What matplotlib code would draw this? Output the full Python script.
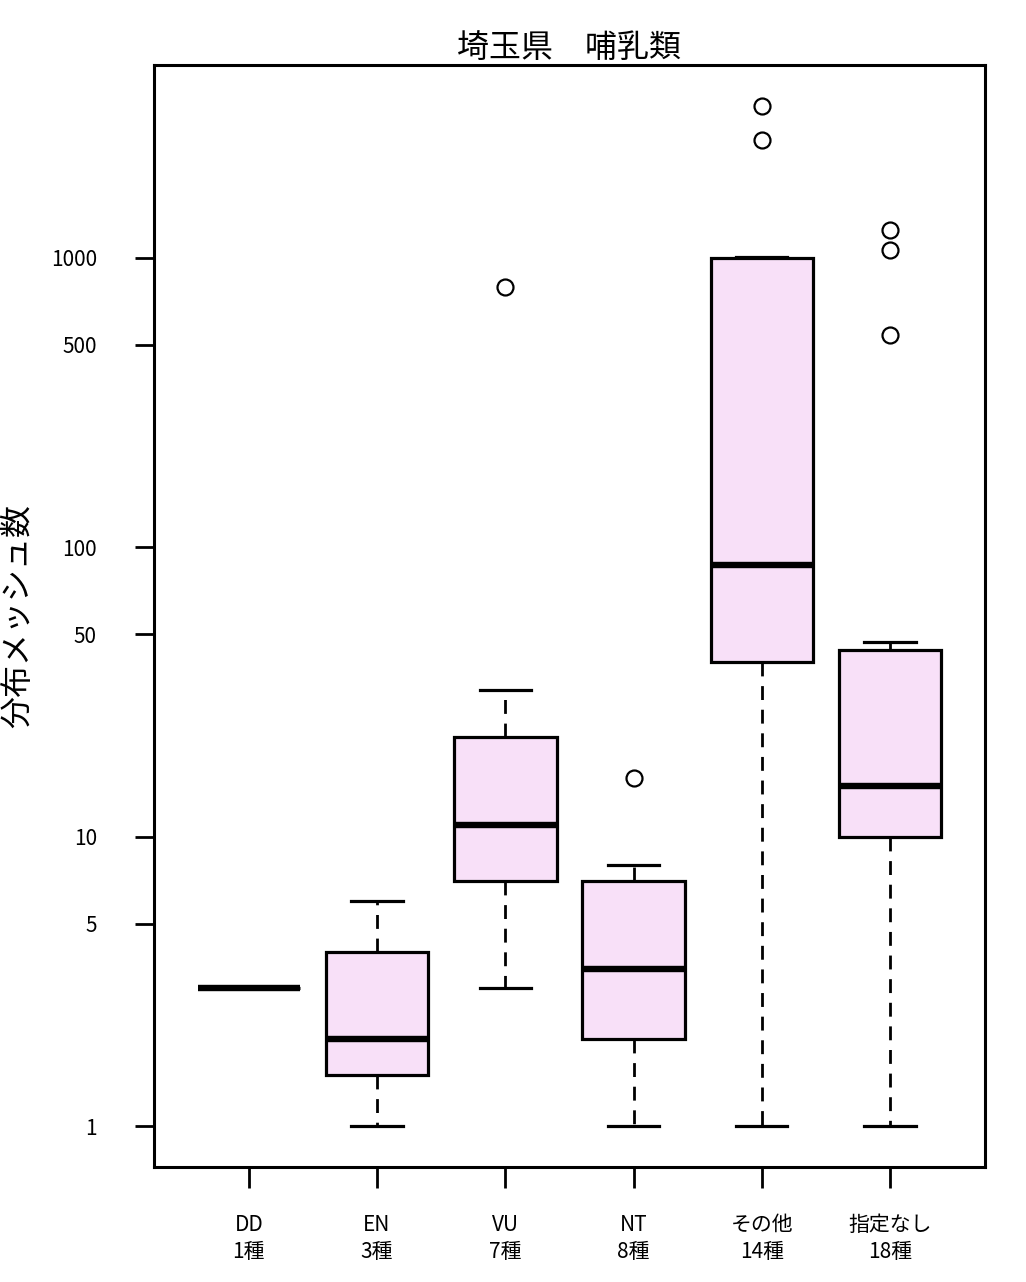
import numpy as np
import matplotlib
matplotlib.use("Agg")
import matplotlib.pyplot as plt

plt.rcParams['font.family'] = ['Noto Sans CJK JP', 'DejaVu Sans']

# 区分ごとの分布メッシュ数
kubun = ["DD", "EN", "VU", "NT", "その他", "指定なし"]
dd = [3]
en = [1, 2, 6]
vu = [3, 4, 10, 11, 12, 32, 790]
nt = [1, 2, 2, 3, 4, 6, 8, 16]
sonota = [1, 3, 10, 40, 50, 70, 80, 94, 150, 500, 1000, 1005, 2550, 3340]
shitei_nashi = [1, 2, 4, 7, 10, 11, 12, 14, 15, 15, 20, 25, 35, 44, 47, 540, 1060, 1240]
data = [dd, en, vu, nt, sonota, shitei_nashi]
labels = [k + "\n" + str(len(d)) + "種" for k, d in zip(kubun, data)]
yticks = [1, 5, 10, 50, 100, 500, 1000]


def fivenum_stats(x, label):
    # Rのboxplotと同じヒンジ計算
    x = np.sort(np.asarray(x, dtype=float))
    n = len(x)
    n4 = np.floor((n + 3) / 2) / 2
    d = np.array([1, n4, (n + 1) / 2, n + 1 - n4, n]) - 1
    q = 0.5 * (x[np.floor(d).astype(int)] + x[np.ceil(d).astype(int)])
    iqr = q[3] - q[1]
    lo = q[1] - 1.5 * iqr
    hi = q[3] + 1.5 * iqr
    inside = x[(x >= lo) & (x <= hi)]
    return {
        "med": q[2], "q1": q[1], "q3": q[3],
        "whislo": inside.min(), "whishi": inside.max(),
        "fliers": x[(x < lo) | (x > hi)], "label": label,
    }


stats = [fivenum_stats(d, l) for d, l in zip(data, labels)]

fig = plt.figure(figsize=(10.26, 12.82), dpi=100)
ax = fig.add_axes([0.150, 0.0897, 0.810, 0.8596])

ax.bxp(stats, positions=range(1, 7), widths=0.8, patch_artist=True,
       boxprops=dict(facecolor="#f8e0f8", edgecolor="black", linewidth=2.3),
       medianprops=dict(color="black", linewidth=4.6, solid_capstyle="butt"),
       whiskerprops=dict(color="black", linewidth=2.0, linestyle=(0, (5, 3.5))),
       capprops=dict(color="black", linewidth=2.3),
       capwidths=0.4,
       flierprops=dict(marker="o", markerfacecolor="none", markeredgecolor="black",
                       markersize=11.5, markeredgewidth=1.6))

ax.set_yscale("log")
ax.set_ylim(10 ** -0.141, 10 ** 3.665)
ax.set_xlim(0.26, 6.74)
ax.set_yticks(yticks)
ax.set_yticklabels([str(t) for t in yticks])
ax.minorticks_off()
ax.set_xticks(range(1, 7))
ax.set_xticklabels(labels, fontsize=15, linespacing=1.3)
ax.tick_params(axis="y", labelsize=15, length=14, width=2, pad=27)
ax.tick_params(axis="x", length=15, width=2, pad=19)
for s in ax.spines.values():
    s.set_linewidth(2.2)

ax.set_title("埼玉県　哺乳類", fontsize=23, pad=6)
fig.text(18 / 1026, (1282 - 616) / 1282, "分布メッシュ数", fontsize=23,
         rotation=90, ha="center", va="center")

fig.savefig("out.png", dpi=100)
